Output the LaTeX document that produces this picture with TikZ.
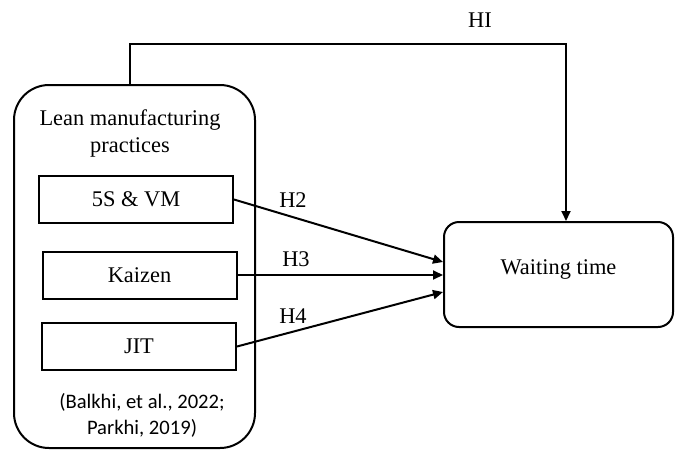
\documentclass[tikz,border=0pt]{standalone}
\usepackage{fontspec}
\setmainfont{Liberation Serif}
\newfontfamily\citefont{Carlito}
\usetikzlibrary{arrows.meta, positioning, calc}

\tikzset{
  practice/.style={draw, line width=1pt, minimum width=97pt, minimum height=23.5pt, inner sep=0pt},
  hyp/.style={line width=1pt, -{Triangle[length=5pt, width=4.5pt]}},
}

\begin{document}
\begin{tikzpicture}[x=0.5pt, y=-0.5pt, font=\fontsize{11.2}{13.5}\selectfont]
  \useasboundingbox (0,0) rectangle (675,450);
  % Outer construct and its practices
  \node[draw, line width=1pt, rounded corners=17.5pt, minimum width=120.5pt, minimum height=181.5pt] (lean) at (134.5,266.5) {};
  \node[align=center] (leantitle) at (130,133.5) {Lean manufacturing\\practices};
  \node[practice] (fives) at (136,199.5) {5S \& VM};
  \node[practice] (kaizen) at (139.5,275) {Kaizen};
  \node[practice] (jit) at (139,346.5) {JIT};
  \node[align=center, font=\citefont\fontsize{10.3}{13}\selectfont] (cite) at (142,415) {(Balkhi, et al., 2022;\\Parkhi, 2019)};
  % Outcome
  \node[draw, line width=1pt, rounded corners=7.5pt, minimum width=114.5pt, minimum height=52.5pt, text depth=7pt] (wait) at (558.5,274.5) {Waiting time};
  % Hypothesised paths
  \coordinate (hiend) at ($(wait.north)+(7.5,0)$);
  \draw[hyp] ($(lean.north)+(-4.5,0)$) -- ++(0,-40) -| (hiend);
  \draw[hyp] (fives.east) -- ($(wait.west)+(0,-12.5)$);
  \draw[hyp] (kaizen.east) -- (kaizen.east -| wait.west);
  \draw[hyp] (jit.east) -- ($(wait.west)+(0,17.5)$);
  \node (hone) at (480,20) {HI};
  \node (htwo) at (293,200) {H2};
  \node (hthree) at (296,259) {H3};
  \node (hfour) at (293,316) {H4};
\end{tikzpicture}
\end{document}
